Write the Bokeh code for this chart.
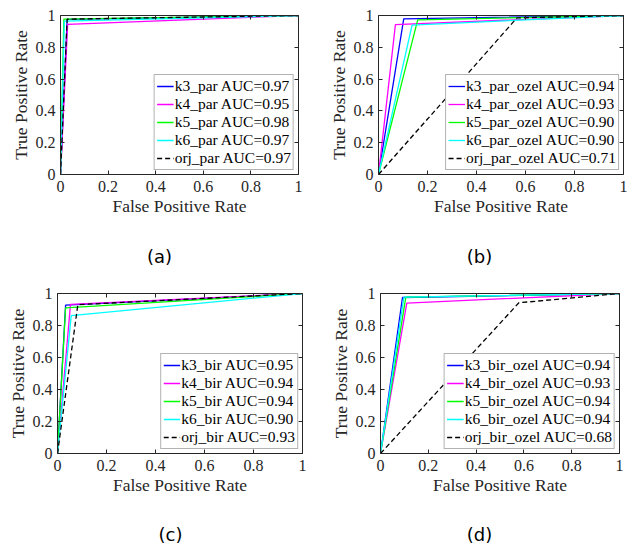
from bokeh.plotting import figure
from bokeh.models import (Range1d, FixedTicker, LinearAxis, Legend, LegendItem,
                          CustomJSTickFormatter)
from bokeh.core.properties import value
from bokeh.layouts import row, column
from bokeh.embed import file_html
from bokeh.resources import INLINE

# ---------------- data ----------------
ticks = [0, 0.2, 0.4, 0.6, 0.8, 1]

a_names = ["k3_par", "k4_par", "k5_par", "k6_par", "orj_par"]
a_auc = ["0.97", "0.95", "0.98", "0.97", "0.97"]
a_fpr = [[0, 0.028, 1], [0, 0.030, 1], [0, 0.014, 1], [0, 0.016, 1], [0, 0.028, 1]]
a_tpr = [[0, 0.975, 1], [0, 0.944, 1], [0, 0.977, 1], [0, 0.965, 1], [0, 0.977, 1]]

b_names = ["k3_par_ozel", "k4_par_ozel", "k5_par_ozel", "k6_par_ozel", "orj_par_ozel"]
b_auc = ["0.94", "0.93", "0.90", "0.90", "0.71"]
b_fpr = [[0, 0.103, 1], [0, 0.069, 1], [0, 0.160, 1], [0, 0.137, 1], [0, 0.565, 1]]
b_tpr = [[0, 0.979, 1], [0, 0.943, 1], [0, 0.973, 1], [0, 0.940, 1], [0, 0.985, 1]]

c_names = ["k3_bir", "k4_bir", "k5_bir", "k6_bir", "orj_bir"]
c_auc = ["0.95", "0.94", "0.94", "0.90", "0.93"]
c_fpr = [[0, 0.033, 1], [0, 0.053, 1], [0, 0.033, 1], [0, 0.056, 1], [0, 0.083, 1]]
c_tpr = [[0, 0.927, 1], [0, 0.932, 1], [0, 0.910, 1], [0, 0.862, 1], [0, 0.930, 1]]

d_names = ["k3_bir_ozel", "k4_bir_ozel", "k5_bir_ozel", "k6_bir_ozel", "orj_bir_ozel"]
d_auc = ["0.94", "0.93", "0.94", "0.94", "0.68"]
d_fpr = [[0, 0.092, 1], [0, 0.110, 1], [0, 0.106, 1], [0, 0.098, 1], [0, 0.579, 1]]
d_tpr = [[0, 0.975, 1], [0, 0.940, 1], [0, 0.977, 1], [0, 0.977, 1], [0, 0.942, 1]]

captions = ["(a)", "(b)", "(c)", "(d)"]

colors = ["#0000ff", "#ff00ff", "#00ff00", "#00ffff", "#000000"]
dashes = ["solid", "solid", "solid", "solid", "5 3"]

SERIF = "Times New Roman"
CAP_FONT = "DejaVu Sans"
AX = "#262626"

fmt_code = "return String(Math.round(tick*10)/10);"


def style_axis(ax, labels=True):
    ax.ticker = FixedTicker(ticks=ticks)
    ax.major_tick_in = 4
    ax.major_tick_out = 0
    ax.minor_tick_line_color = None
    ax.axis_line_color = AX
    ax.major_tick_line_color = AX
    ax.axis_line_width = 1
    if labels:
        ax.formatter = CustomJSTickFormatter(code=fmt_code)
        ax.major_label_text_font = SERIF
        ax.major_label_text_font_size = "16px"
        ax.major_label_text_color = AX
        ax.axis_label_text_font = SERIF
        ax.axis_label_text_font_size = "17.5px"
        ax.axis_label_text_font_style = "normal"
        ax.axis_label_text_color = AX
    else:
        ax.formatter = CustomJSTickFormatter(code="return '';")
        ax.major_label_standoff = 0
        ax.major_label_text_font_size = "0px"


def make_panel(names, aucs, fprs, tprs, W, H, bl, br, bt, bb):
    p = figure(width=W, height=H, output_backend="svg", toolbar_location=None,
               x_range=Range1d(0, 1), y_range=Range1d(0, 1),
               min_border_left=bl, min_border_right=br,
               min_border_top=bt, min_border_bottom=bb,
               x_axis_label="False Positive Rate", y_axis_label="True Positive Rate")
    p.grid.visible = False
    p.outline_line_color = None
    p.background_fill_color = "white"
    p.border_fill_color = "white"

    style_axis(p.xaxis[0])
    style_axis(p.yaxis[0])
    p.xaxis[0].major_label_standoff = 6
    p.xaxis[0].axis_label_standoff = 1
    p.yaxis[0].major_label_standoff = 5
    p.yaxis[0].axis_label_standoff = 2

    top = LinearAxis()
    style_axis(top, labels=False)
    p.add_layout(top, "above")
    right = LinearAxis()
    style_axis(right, labels=False)
    p.add_layout(right, "right")

    items = []
    for i in range(len(names)):
        r = p.line(fprs[i], tprs[i], line_color=colors[i], line_width=1.3,
                   line_dash=dashes[i])
        items.append(LegendItem(label=f"{names[i]} AUC={aucs[i]}", renderers=[r]))

    legend = Legend(items=items, location="bottom_right", margin=4, padding=2,
                    spacing=0, glyph_width=17, glyph_height=18, label_height=18,
                    label_standoff=1, label_text_font=SERIF,
                    label_text_font_size="15.5px", label_text_color="#000000",
                    border_line_color="#666666", border_line_width=1,
                    background_fill_color="white", background_fill_alpha=1)
    p.add_layout(legend)
    return p


def make_caption(text, W, H, cx):
    c = figure(width=W, height=H, output_backend="svg", toolbar_location=None,
               x_range=Range1d(0, W), y_range=Range1d(0, H),
               x_axis_location=None, y_axis_location=None,
               min_border=0)
    c.grid.visible = False
    c.outline_line_color = None
    c.text(x=[cx], y=[H / 2], text=[text], text_align="center",
           text_baseline="middle", text_font=value(CAP_FONT),
           text_font_size="18px", text_color="#000000")
    return c


pa = make_panel(a_names, a_auc, a_fpr, a_tpr, 320, 240, 60, 22, 14, 66)
pb = make_panel(b_names, b_auc, b_fpr, b_tpr, 313, 240, 58, 10, 15, 66)
pc = make_panel(c_names, c_auc, c_fpr, c_tpr, 320, 246, 57, 18, 21, 61)
pd = make_panel(d_names, d_auc, d_fpr, d_tpr, 313, 246, 60, 14, 21, 65)

ca = make_caption(captions[0], 320, 32, 159)
cb = make_caption(captions[1], 313, 32, 159)
cc = make_caption(captions[2], 320, 32, 170)
cd = make_caption(captions[3], 313, 32, 159)

layout = column(row(pa, pb), row(ca, cb), row(pc, pd), row(cc, cd))
open("out.html", "w").write(file_html(layout, INLINE))
